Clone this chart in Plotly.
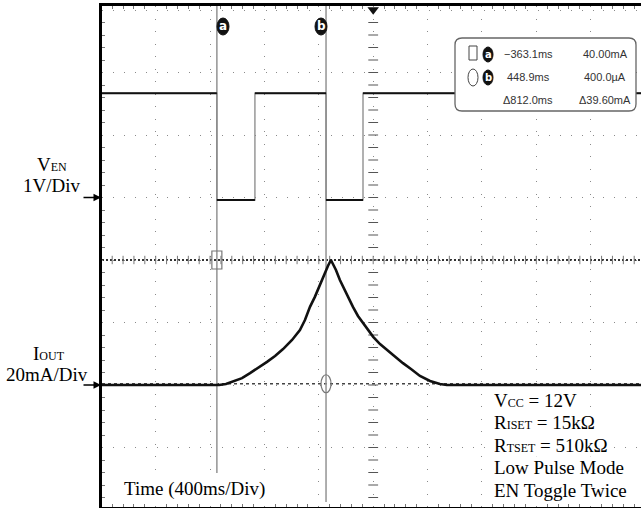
import numpy as np
import plotly.graph_objects as go

# ---------------- data ----------------
TIME_PER_DIV_MS = 400
EN_VOLTS_PER_DIV = 1.0
IOUT_MA_PER_DIV = 20.0
EN_GROUND_DIV = 1.0      # channel offset on screen (divisions)
IOUT_GROUND_DIV = -2.0

EN_EDGE_TIMES_MS = [-1150, -870, -347, -75]
EN_LEVELS_V = [1.67, -0.04, 1.67, -0.04, 1.67]

IOUT_TIME_MS = [-2000, -1134, -1083, -1032, -965, -906, -847, -781, -722, -663,
                -597, -539, -502, -465, -429, -392, -355, -333, -311,
                -274, -245, -201, -149, -112, -75, -38, 0,
                50, 101, 160, 219, 278, 344, 418, 491, 542, 2000]
IOUT_MA = [0, 0, 0.3, 1.1, 2.2, 3.8, 5.4, 7.4, 9.3, 11.5,
           14.4, 17.6, 20.8, 25.0, 28.2, 32.0, 36.2, 38.1, 40.0,
           36.8, 33.6, 29.4, 25.0, 22.1, 19.8, 17.6, 15.4,
           13.1, 11.2, 9.0, 7.0, 5.1, 2.9, 1.3, 0.3, 0, 0]

CURSOR_A_MS = -1150
CURSOR_B_MS = -347
CURSOR_A_LEVEL_MA = 40.0
CURSOR_B_LEVEL_MA = 0.4

READOUT_TIMES = ["\u2212363.1ms", "448.9ms", "\u0394812.0ms"]
READOUT_VALUES = ["40.00mA", "400.0\u00b5A", "\u039439.60mA"]

SUB = "<span style='font-size:12px'>%s</span>"
CONDITIONS = ["V" + SUB % "CC" + " = 12V",
              "R" + SUB % "ISET" + " = 15k\u03a9",
              "R" + SUB % "TSET" + " = 510k\u03a9",
              "Low Pulse Mode",
              "EN Toggle Twice"]

# ---------------- geometry ----------------
W, H = 641, 508
ML, MR, MT, MB = 102, 0, 6, 1
X_RANGE = [-1995, 1970]
Y_RANGE = [-3.952, 4.064]
PW, PH = W - ML - MR, H - MT - MB
PX_PER_MS = PW / (X_RANGE[1] - X_RANGE[0])
PX_PER_DIV = PH / (Y_RANGE[1] - Y_RANGE[0])


def px(p):
    return (p - ML) / PW


def py(p):
    return (H - MB - p) / PH


def en_div(v):
    return v / EN_VOLTS_PER_DIV + EN_GROUND_DIV


def i_div(ma):
    return np.asarray(ma) / IOUT_MA_PER_DIV + IOUT_GROUND_DIV


SERIF = "Liberation Serif, Times New Roman, serif"
NARROW = "Liberation Sans Narrow, Liberation Sans, Arial, sans-serif"

fig = go.Figure()

# centre graticule tick marks
fig.add_trace(go.Scatter(x=np.zeros(39), y=np.arange(-3.8, 4.0, 0.2), mode="markers",
                         marker=dict(symbol="line-ew", size=7, line=dict(color="#555", width=1)),
                         hoverinfo="skip"))
hticks = np.arange(-1920, 1970, 80)
fig.add_trace(go.Scatter(x=hticks, y=np.zeros(len(hticks)), mode="markers",
                         marker=dict(symbol="line-ns", size=6, line=dict(color="#777", width=1)),
                         hoverinfo="skip"))

# VEN trace
t_bounds = [X_RANGE[0] - 10] + EN_EDGE_TIMES_MS + [X_RANGE[1] + 10]
fig.add_trace(go.Scatter(x=t_bounds, y=[en_div(v) for v in EN_LEVELS_V + [EN_LEVELS_V[-1]]],
                         mode="lines", line=dict(color="#888", width=1.3, shape="hv"),
                         hoverinfo="skip"))
hx, hy = [], []
for i, v in enumerate(EN_LEVELS_V):
    hx += [t_bounds[i], t_bounds[i + 1], None]
    hy += [en_div(v), en_div(v), None]
fig.add_trace(go.Scatter(x=hx, y=hy, mode="lines", line=dict(color="#111", width=2),
                         hoverinfo="skip"))

# IOUT trace
fig.add_trace(go.Scatter(x=IOUT_TIME_MS, y=i_div(IOUT_MA), mode="lines",
                         line=dict(color="#111", width=2.6), hoverinfo="skip"))

# trigger marker
fig.add_trace(go.Scatter(x=[0], y=[Y_RANGE[1] - 0.06], mode="markers", cliponaxis=False,
                         marker=dict(symbol="triangle-down", size=10, color="#111"),
                         hoverinfo="skip"))

shapes = []
cursor_a_bottom = Y_RANGE[1] - (473 - MT) / PX_PER_DIV
cursor_b_bottom = Y_RANGE[1] - (502 - MT) / PX_PER_DIV
for cx, cb in [(CURSOR_A_MS, cursor_a_bottom), (CURSOR_B_MS, cursor_b_bottom)]:
    shapes.append(dict(type="line", xref="x", yref="y", x0=cx, x1=cx, y0=cb,
                       y1=Y_RANGE[1], line=dict(color="#9a9a9a", width=1.6), layer="between"))
la = float(i_div(CURSOR_A_LEVEL_MA))
lb = float(i_div(CURSOR_B_LEVEL_MA))
shapes.append(dict(type="line", xref="paper", yref="y", x0=0, x1=1, y0=la, y1=la,
                   line=dict(color="#333", width=2, dash="2px,2px"), layer="between"))
shapes.append(dict(type="line", xref="paper", yref="y", x0=0, x1=1, y0=lb, y1=lb,
                   line=dict(color="#444", width=1.5, dash="3px,3px"), layer="between"))
hw, hh = 5 / PX_PER_MS, 9 / PX_PER_DIV
shapes.append(dict(type="rect", xref="x", yref="y", x0=CURSOR_A_MS - hw, x1=CURSOR_A_MS + hw,
                   y0=la - hh, y1=la + hh, line=dict(color="#777", width=1.2)))
shapes.append(dict(type="circle", xref="x", yref="y", x0=CURSOR_B_MS - hw, x1=CURSOR_B_MS + hw,
                   y0=lb - hh, y1=lb + hh, line=dict(color="#777", width=1.2)))

# readout box (rounded rectangle)
bx0, bx1, by0, by1, r = 455, 636, 38, 111, 7
path = (f"M{px(bx0 + r)},{py(by0)} L{px(bx1 - r)},{py(by0)} Q{px(bx1)},{py(by0)} {px(bx1)},{py(by0 + r)} "
        f"L{px(bx1)},{py(by1 - r)} Q{px(bx1)},{py(by1)} {px(bx1 - r)},{py(by1)} "
        f"L{px(bx0 + r)},{py(by1)} Q{px(bx0)},{py(by1)} {px(bx0)},{py(by1 - r)} "
        f"L{px(bx0)},{py(by0 + r)} Q{px(bx0)},{py(by0)} {px(bx0 + r)},{py(by0)} Z")
shapes.append(dict(type="path", xref="paper", yref="paper", path=path, fillcolor="white",
                   line=dict(color="#666", width=1.3), layer="above"))
# readout symbols
shapes.append(dict(type="rect", xref="paper", yref="paper", x0=px(469), x1=px(477), y0=py(60), y1=py(46),
                   line=dict(color="#444", width=1)))
shapes.append(dict(type="circle", xref="paper", yref="paper", x0=px(468), x1=px(478), y0=py(86), y1=py(69),
                   line=dict(color="#444", width=1)))

annotations = []


def badge(cx, cy, w, h, letter, size):
    shapes.append(dict(type="circle", xref="paper", yref="paper", x0=px(cx - w / 2), x1=px(cx + w / 2),
                       y0=py(cy + h / 2), y1=py(cy - h / 2), fillcolor="#111", line=dict(color="#111", width=1)))
    annotations.append(dict(xref="paper", yref="paper", x=px(cx), y=py(cy), text="<b>%s</b>" % letter,
                            showarrow=False, font=dict(family="DejaVu Sans", size=size, color="white"),
                            xanchor="center", yanchor="middle"))


badge(223, 26.5, 12, 17, "a", 12)
badge(321, 26.5, 12, 17, "b", 12)
badge(488, 54.5, 10, 15, "a", 10)
badge(488, 77.5, 10, 15, "b", 10)

for i, (tt, vv) in enumerate(zip(READOUT_TIMES, READOUT_VALUES)):
    yy = [54, 77, 100][i]
    annotations.append(dict(xref="paper", yref="paper", x=px(528), y=py(yy), text=tt, showarrow=False,
                            font=dict(family=NARROW, size=11, color="#333"), xanchor="center", yanchor="middle"))
    annotations.append(dict(xref="paper", yref="paper", x=px(605), y=py(yy), text=vv, showarrow=False,
                            font=dict(family=NARROW, size=11, color="#333"), xanchor="center", yanchor="middle"))

# channel labels with arrows
annotations += [
    dict(xref="paper", yref="paper", x=px(52), y=py(164), text="V" + SUB % "EN", showarrow=False,
         font=dict(family=SERIF, size=19, color="black"), xanchor="center", yanchor="middle"),
    dict(xref="paper", yref="paper", x=px(52), y=py(185), text="1V/Div", showarrow=False,
         font=dict(family=SERIF, size=19, color="black"), xanchor="center", yanchor="middle"),
    dict(xref="paper", yref="paper", x=px(49), y=py(353), text="I" + SUB % "OUT", showarrow=False,
         font=dict(family=SERIF, size=19, color="black"), xanchor="center", yanchor="middle"),
    dict(xref="paper", yref="paper", x=px(47), y=py(375), text="20mA/Div", showarrow=False,
         font=dict(family=SERIF, size=19, color="black"), xanchor="center", yanchor="middle"),
    dict(xref="paper", yref="y", x=0, y=EN_GROUND_DIV, ax=-20, ay=0, text="", showarrow=True,
         arrowhead=2, arrowsize=1, arrowwidth=1.5, arrowcolor="black", standoff=1),
    dict(xref="paper", yref="y", x=0, y=IOUT_GROUND_DIV, ax=-20, ay=0, text="", showarrow=True,
         arrowhead=2, arrowsize=1, arrowwidth=1.5, arrowcolor="black", standoff=1),
    dict(xref="paper", yref="paper", x=px(194), y=py(489), text="Time (400ms/Div)", showarrow=False,
         font=dict(family=SERIF, size=19, color="black"), xanchor="center", yanchor="middle",
         bgcolor="white", borderpad=1),
]
for i, line in enumerate(CONDITIONS):
    annotations.append(dict(xref="paper", yref="paper", x=px(493), y=py(400 + 22.5 * i), text=line,
                            showarrow=False, font=dict(family=SERIF, size=19, color="black"),
                            xanchor="left", yanchor="middle", bgcolor="white", borderpad=0))

fig.update_layout(
    width=W, height=H, margin=dict(l=ML, r=MR, t=MT, b=MB, pad=0),
    paper_bgcolor="white", plot_bgcolor="white", showlegend=False,
    xaxis=dict(range=X_RANGE, tick0=0, dtick=TIME_PER_DIV_MS, showgrid=True, gridcolor="#8a8a8a",
               gridwidth=1, griddash="1px,11.5px", showticklabels=False, ticks="", zeroline=False,
               showline=True, linecolor="black", linewidth=3, mirror="ticks", fixedrange=True,
               minor=dict(tick0=0, dtick=TIME_PER_DIV_MS / 5, ticks="inside", ticklen=3,
                          tickcolor="#777", tickwidth=1, showgrid=False)),
    yaxis=dict(range=Y_RANGE, tick0=0, dtick=1, showgrid=True, gridcolor="#8a8a8a", gridwidth=1,
               griddash="1px,9.9px", showticklabels=False, ticks="", zeroline=False,
               showline=True, linecolor="black", linewidth=3, mirror=False, fixedrange=True,
               minor=dict(tick0=0, dtick=0.2, ticks="inside", ticklen=3, tickcolor="#777",
                          tickwidth=1, showgrid=False)),
    shapes=shapes, annotations=annotations,
)

fig.write_html("out.html", config={"displayModeBar": False},
               post_script="document.body.style.margin='0';document.body.style.overflow='hidden';")
